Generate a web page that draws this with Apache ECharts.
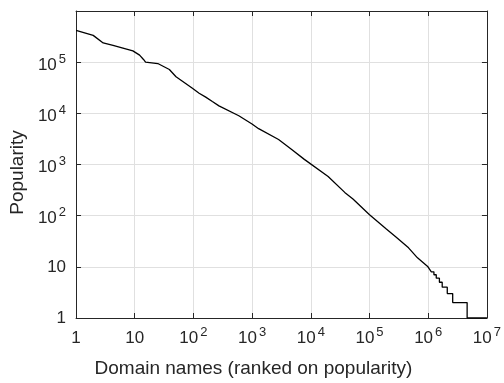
<!DOCTYPE html>
<html>
<head>
<meta charset="utf-8">
<script src="https://cdn.jsdelivr.net/npm/echarts@6/dist/echarts.min.js"></script>
<style>html,body{margin:0;padding:0;background:#fff}#c{width:504px;height:383px}</style>
</head>
<body>
<div id="c"></div>
<script>
// Smooth part of the rank/popularity curve
const ranks = [1, 1.96, 2.9, 4.27, 6.3, 9.3, 12.1, 14.1, 15.3, 24.7, 38.9, 50.5, 96, 125, 162, 210, 272, 593, 995, 1290, 2820, 4720, 7750, 19700, 37800, 52200, 1e5, 1.91e5, 2.82e5, 4.62e5, 6.56e5, 9.9e5];
const pops  = [4.17e5, 3.34e5, 2.37e5, 2.13e5, 1.89e5, 1.66e5, 1.37e5, 1.13e5, 1.0e5, 9.4e4, 7.2e4, 5.2e4, 3.09e4, 2.47e4, 2.07e4, 1.7e4, 1.4e4, 8980, 6190, 5010, 3080, 1970, 1260, 582, 285, 212, 104, 55.5, 38.3, 23.5, 15, 10];
// Stair part: popularity level and the rank where that level ends
const stepPops = [10, 9, 8, 7, 6, 5, 4, 3, 2, 1];
const stepEnds = [1.05e6, 1.13e6, 1.25e6, 1.37e6, 1.55e6, 1.73e6, 2.11e6, 2.61e6, 4.6e6, 1e7];
// Axis tick labels (decade exponents that are labelled)
const xTickExps = [0, 1, 2, 3, 4, 5, 6, 7];
const yTickExps = [0, 1, 2, 3, 4, 5];

const data = ranks.map((r, i) => [r, pops[i]]);
let prev = ranks[ranks.length - 1];
stepPops.forEach((p, i) => {
  data.push([prev, p]);
  data.push([stepEnds[i], p]);
  prev = stepEnds[i];
});

const FONT = 'Liberation Sans, Arial, Helvetica, sans-serif';
const TXT = '#262626';
const rich = {
  b: {fontSize: 17, lineHeight: 17, padding: [6, 0, 0, 0], color: TXT, fontFamily: FONT},
  p: {fontSize: 17, lineHeight: 17, color: TXT, fontFamily: FONT},
  s: {fontSize: 13, lineHeight: 13, padding: [0, 0, 6, 2], color: TXT, fontFamily: FONT}
};
function fmt(v, isX, allowed) {
  const e = Math.round(Math.log10(v));
  if (allowed.indexOf(e) < 0) return '';
  if (e === 0) return isX ? '{b|1}' : '{p|1}';
  if (e === 1) return isX ? '{b|10}' : '{p|10}';
  return '{b|10}{s|' + e + '}';
}
const axLine = {show: true, onZero: false, lineStyle: {color: TXT, width: 1}};
const tick = {show: true, inside: true, length: 5, lineStyle: {color: TXT, width: 1}};
const grid = {show: true, lineStyle: {color: '#e0e0e0', width: 1}};

const chart = echarts.init(document.getElementById('c'), null, {renderer: 'canvas'});
chart.setOption({
  animation: false,
  backgroundColor: '#fff',
  grid: {left: 76, right: 14, top: 11, bottom: 63, containLabel: false},
  xAxis: [
    {type: 'log', logBase: 10, min: 1, max: 1e7, splitNumber: 7, position: 'bottom',
     axisLine: axLine, axisTick: tick, splitLine: grid, minorTick: {show: false},
     axisLabel: {margin: 9, formatter: v => fmt(v, true, xTickExps), rich: rich},
     name: 'Domain names (ranked on popularity)', nameLocation: 'middle', nameGap: 41,
     nameTextStyle: {fontSize: 19, color: TXT, fontFamily: FONT, padding: [0, 56, 0, 0]}},
    {type: 'log', logBase: 10, min: 1, max: 1e7, splitNumber: 7, position: 'top',
     axisLine: axLine, axisTick: tick, splitLine: {show: false}, axisLabel: {show: false}}
  ],
  yAxis: [
    {type: 'log', logBase: 10, min: 1, max: 1e6, splitNumber: 6, position: 'left',
     axisLine: axLine, axisTick: tick, splitLine: grid, minorTick: {show: false},
     axisLabel: {margin: 10, formatter: v => fmt(v, false, yTickExps), rich: rich},
     name: 'Popularity', nameLocation: 'middle', nameGap: 47, nameRotate: 90,
     nameTextStyle: {fontSize: 19, color: TXT, fontFamily: FONT, padding: [0, 16, 0, 0]}},
    {type: 'log', logBase: 10, min: 1, max: 1e6, splitNumber: 6, position: 'right',
     axisLine: axLine, axisTick: tick, splitLine: {show: false}, axisLabel: {show: false}}
  ],
  series: [{
    type: 'line', xAxisIndex: 0, yAxisIndex: 0, data: data,
    showSymbol: false, symbol: 'none', smooth: false,
    lineStyle: {color: '#000', width: 1.3}
  }]
});
</script>
</body>
</html>
